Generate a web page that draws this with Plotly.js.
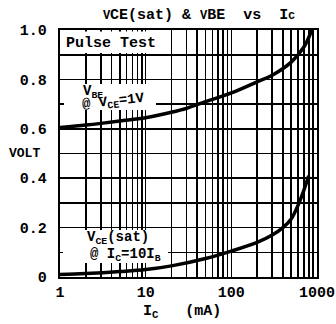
<!DOCTYPE html>
<html><head><meta charset="utf-8">
<script src="https://cdn.plot.ly/plotly-3.0.1.min.js"></script>
<style>html,body{margin:0;padding:0;background:#fff}#c{width:336px;height:324px}</style>
</head><body><div id="c"></div>
<script>
const icVbe = [1, 2, 3, 5, 10, 20, 30, 50, 100, 200, 300, 500, 700, 870];
const vbe = [0.605, 0.615, 0.622, 0.632, 0.645, 0.667, 0.683, 0.71, 0.745, 0.79, 0.817, 0.87, 0.93, 1.0];
const icVce = [1, 2, 5, 10, 20, 50, 100, 200, 300, 400, 500, 600, 700, 800];
const vce = [0.01, 0.014, 0.022, 0.03, 0.045, 0.075, 0.105, 0.14, 0.17, 0.2, 0.235, 0.29, 0.35, 0.41];
const xTickVals = [1, 10, 100, 1000];
const xTickText = ['1', '10', '100', '1000'];
const yTickVals = [0, 0.2, 0.4, 0.6, 0.8, 1.0];
const yTickText = ['0', '0.2', '0.4', '0.6', '0.8', '1.0'];

const F = 'Liberation Mono, Courier New, monospace';
const font = {family: F, size: 14, color: '#000', weight: 'bold'};

const traces = [
  {x: icVbe, y: vbe, mode: 'lines', line: {color: '#000', width: 3.5, shape: 'spline'}, hoverinfo: 'skip'},
  {x: icVce, y: vce, mode: 'lines', line: {color: '#000', width: 3.5, shape: 'spline'}, hoverinfo: 'skip'}
];
const px = v => (v - 60) / 257, py = v => (277 - v) / 247;
const ann = (x, y, text, f, extra) => Object.assign({xref: 'paper', yref: 'paper', x: px(x), y: py(y), xanchor: 'center', yanchor: 'middle', text: text, showarrow: false, font: f || font}, extra || {});
const box = (x0, x1, y0, y1) => ({type: 'rect', xref: 'paper', yref: 'paper', x0: px(x0), x1: px(x1), y0: py(y1), y1: py(y0), fillcolor: '#fff', line: {width: 0}, layer: 'above'});
const layout = {
  width: 336, height: 324,
  margin: {l: 60, r: 19, t: 30, b: 47},
  paper_bgcolor: '#fff', plot_bgcolor: '#fff',
  showlegend: false,
  font: font,
  title: {text: '<span style="font-size:12px">V</span>CE(sat) & <span style="font-size:12px">V</span>BE  vs  I<span style="font-size:11px">C</span>',
          font: {family: F, size: 15, color: '#000', weight: 'bold'}, x: 0.592, xanchor: 'center', y: 0.957, yanchor: 'middle'},
  xaxis: {type: 'log', range: [0, 3], tickmode: 'array', tickvals: xTickVals, ticktext: xTickText,
          showgrid: true, gridcolor: '#000', gridwidth: 1.6, zeroline: false,
          minor: {showgrid: true, gridcolor: '#000', gridwidth: 1.6, ticks: '', dtick: 'D1'},
          showline: true, mirror: true, linecolor: '#000', linewidth: 2.2,
          ticks: '',
          tickfont: {family: F, size: 15, color: '#000', weight: 'bold'}},
  yaxis: {range: [0, 1.0], tickmode: 'array', tickvals: yTickVals, ticktext: yTickText,
          showgrid: true, gridcolor: '#000', gridwidth: 1.6, zeroline: false,
          minor: {showgrid: true, gridcolor: '#000', gridwidth: 1.6, ticks: '', dtick: 0.1, tick0: 0},
          showline: true, mirror: true, linecolor: '#000', linewidth: 2.2,
          ticks: 'outside', ticklen: 8, tickcolor: 'rgba(0,0,0,0)',
          tickfont: {family: F, size: 15, color: '#000', weight: 'bold'}},
  shapes: [
    box(61.5, 162, 31.5, 53),
    box(64, 156, 84, 110),
    box(63, 168, 230, 263)
  ],
  annotations: [
    ann(111, 43, 'Pulse Test', {family: F, size: 15, color: '#000', weight: 'bold'}),
    ann(93, 92, 'V<sub>BE</sub>'),
    ann(113, 102, '@ V<sub>CE</sub>=1V', null, {textangle: -6}),
    ann(118, 238, 'V<sub>CE</sub>(sat)'),
    ann(125, 255, '@ I<sub>C</sub>=10I<sub>B</sub>'),
    ann(24, 153, 'VOLT', {family: F, size: 13, color: '#000', weight: 'bold'}),
    ann(182, 312, 'I<sub>C</sub>   (mA)', {family: F, size: 15, color: '#000', weight: 'bold'})
  ]
};
Plotly.newPlot('c', traces, layout, {staticPlot: true, displayModeBar: false});
</script></body></html>
